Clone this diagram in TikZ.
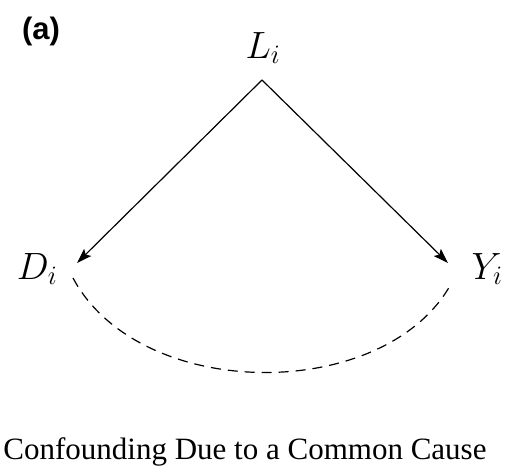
\RequirePackage{fix-cm}
\documentclass[tikz,border=0pt]{standalone}
\usepackage{fontspec}
\setmainfont{Liberation Serif}
\newfontfamily\labelsans{Liberation Sans}
\usetikzlibrary{arrows.meta}
\begin{document}
\begin{tikzpicture}[x=1pt,y=1pt,
  var/.style={inner sep=0pt,font=\fontsize{38}{44}\selectfont},
  edge/.style={line width=1.2pt,-{Stealth[length=15pt,width=10pt,inset=3pt]}},
  assoc/.style={line width=1.2pt,dash pattern=on 10pt off 7pt}]
\useasboundingbox (0,0) rectangle (505,473);
\node[inner sep=0pt,font=\labelsans\bfseries\fontsize{31}{37}\selectfont] (tag) at (41,442) {(a)};
\node[var] (L) at (263,425) {$L_i$};
\node[var] (D) at (37,204) {$D_i$};
\node[var] (Y) at (487,204) {$Y_i$};
\coordinate (apex) at (262,393);
\coordinate (dtip) at (77,210);
\coordinate (ytip) at (448,210);
\coordinate (dstart) at (73,195);
\coordinate (yend) at (451,189);
\draw[edge] (apex) -- (dtip);
\draw[edge] (apex) -- (ytip);
\draw[assoc] (dstart) .. controls (140,70) and (385,70) .. (yend);
\node[inner sep=0pt,font=\fontsize{31}{37}\selectfont] (cap) at (245,21) {Confounding Due to a Common Cause};
\end{tikzpicture}
\end{document}
